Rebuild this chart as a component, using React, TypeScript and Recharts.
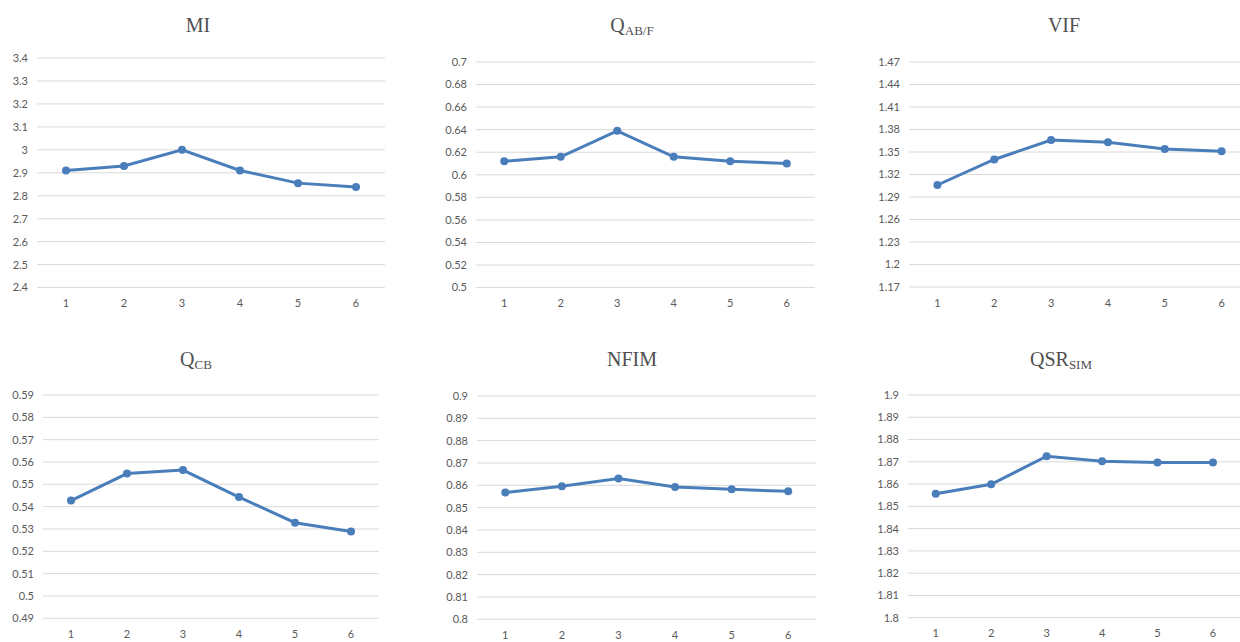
import React from "react";
import { LineChart, Line, XAxis, YAxis, CartesianGrid } from "recharts";

// x categories shared by all six panels
const runs = ["1", "2", "3", "4", "5", "6"];

// values
const miValues = [2.91, 2.93, 3.0, 2.91, 2.855, 2.838];
const qabfValues = [0.612, 0.616, 0.639, 0.616, 0.612, 0.61];
const vifValues = [1.306, 1.34, 1.366, 1.363, 1.354, 1.351];
const qcbValues = [0.5427, 0.5548, 0.5564, 0.5443, 0.5328, 0.5289];
const nfimValues = [0.8568, 0.8596, 0.8631, 0.8592, 0.8582, 0.8573];
const qsrValues = [1.8557, 1.8599, 1.8725, 1.8703, 1.8697, 1.8697];

// y tick labels
const miTicks = [2.4, 2.5, 2.6, 2.7, 2.8, 2.9, 3, 3.1, 3.2, 3.3, 3.4];
const qabfTicks = [0.5, 0.52, 0.54, 0.56, 0.58, 0.6, 0.62, 0.64, 0.66, 0.68, 0.7];
const vifTicks = [1.17, 1.2, 1.23, 1.26, 1.29, 1.32, 1.35, 1.38, 1.41, 1.44, 1.47];
const qcbTicks = [0.49, 0.5, 0.51, 0.52, 0.53, 0.54, 0.55, 0.56, 0.57, 0.58, 0.59];
const nfimTicks = [0.8, 0.81, 0.82, 0.83, 0.84, 0.85, 0.86, 0.87, 0.88, 0.89, 0.9];
const qsrTicks = [1.8, 1.81, 1.82, 1.83, 1.84, 1.85, 1.86, 1.87, 1.88, 1.89, 1.9];

const BLUE = "#4a7ebb";
const GRID = "#d9d9d9";
const TEXT = "#595959";

type PanelDef = {
  title: string;
  sub?: string;
  titleX: number;
  titleY: number;
  values: number[];
  ticks: number[];
  plotLeft: number;
  plotRight: number;
  plotTop: number;
  plotBottom: number;
};

const panels: PanelDef[] = [
  { title: "MI", titleX: 198, titleY: 32, values: miValues, ticks: miTicks, plotLeft: 37, plotRight: 385, plotTop: 57.7, plotBottom: 287.3 },
  { title: "Q", sub: "AB/F", titleX: 632, titleY: 32, values: qabfValues, ticks: qabfTicks, plotLeft: 476, plotRight: 815, plotTop: 61.7, plotBottom: 287.3 },
  { title: "VIF", titleX: 1064, titleY: 32, values: vifValues, ticks: vifTicks, plotLeft: 908.5, plotRight: 1249.5, plotTop: 62.3, plotBottom: 287.3 },
  { title: "Q", sub: "CB", titleX: 196, titleY: 366, values: qcbValues, ticks: qcbTicks, plotLeft: 42.5, plotRight: 378.5, plotTop: 395, plotBottom: 618.3 },
  { title: "NFIM", titleX: 632, titleY: 366, values: nfimValues, ticks: nfimTicks, plotLeft: 476.5, plotRight: 816, plotTop: 396, plotBottom: 619.3 },
  { title: "QSR", sub: "SIM", titleX: 1061, titleY: 366, values: qsrValues, ticks: qsrTicks, plotLeft: 908.3, plotRight: 1241, plotTop: 395, plotBottom: 617.7 },
];

const fmt = (v: number) => String(Number(v.toFixed(3)));

function Panel({ p }: { p: PanelDef }) {
  const yw = 40;
  const mt = 10;
  const xh = 30;
  const plotW = p.plotRight - p.plotLeft;
  const pad = plotW / 12;
  const data = runs.map((r, i) => ({ run: r, value: p.values[i] }));
  return (
    <div style={{ position: "absolute", left: p.plotLeft - yw, top: p.plotTop - mt }}>
      <LineChart
        width={plotW + yw}
        height={p.plotBottom - p.plotTop + mt + xh}
        data={data}
        margin={{ top: mt, right: 0, bottom: 0, left: 0 }}
      >
        <CartesianGrid vertical={false} stroke={GRID} strokeWidth={1} />
        <XAxis
          dataKey="run"
          axisLine={false}
          tickLine={false}
          interval={0}
          height={xh}
          tickMargin={6}
          padding={{ left: pad, right: pad }}
          tick={{ fontSize: 11, fill: TEXT, fontFamily: "Lato" }}
        />
        <YAxis
          type="number"
          domain={[p.ticks[0], p.ticks[p.ticks.length - 1]]}
          ticks={p.ticks}
          interval={0}
          width={yw}
          axisLine={false}
          tickLine={false}
          tickMargin={3}
          tickFormatter={fmt}
          tick={{ fontSize: 11, fill: TEXT, fontFamily: "Lato" }}
        />
        <Line
          type="linear"
          dataKey="value"
          stroke={BLUE}
          strokeWidth={3}
          dot={{ r: 4, fill: BLUE, stroke: BLUE, strokeWidth: 0 }}
          activeDot={false}
          isAnimationActive={false}
        />
      </LineChart>
    </div>
  );
}

export default function App() {
  return (
    <div
      style={{
        position: "absolute",
        left: 0,
        top: 0,
        width: 1240,
        height: 642,
        overflow: "hidden",
        background: "#fff",
      }}
    >
      {panels.map((p, i) => (
        <Panel key={i} p={p} />
      ))}
      <svg width={1240} height={642} style={{ position: "absolute", left: 0, top: 0, pointerEvents: "none" }}>
        {panels.map((p, i) => (
          <text
            key={i}
            x={p.titleX}
            y={p.titleY}
            textAnchor="middle"
            fontFamily="'Liberation Serif', 'Times New Roman', serif"
            fontSize={20}
            fill="#505050"
          >
            {p.title}
            {p.sub && (
              <tspan fontSize={13} dy={3}>
                {p.sub}
              </tspan>
            )}
          </text>
        ))}
      </svg>
    </div>
  );
}
